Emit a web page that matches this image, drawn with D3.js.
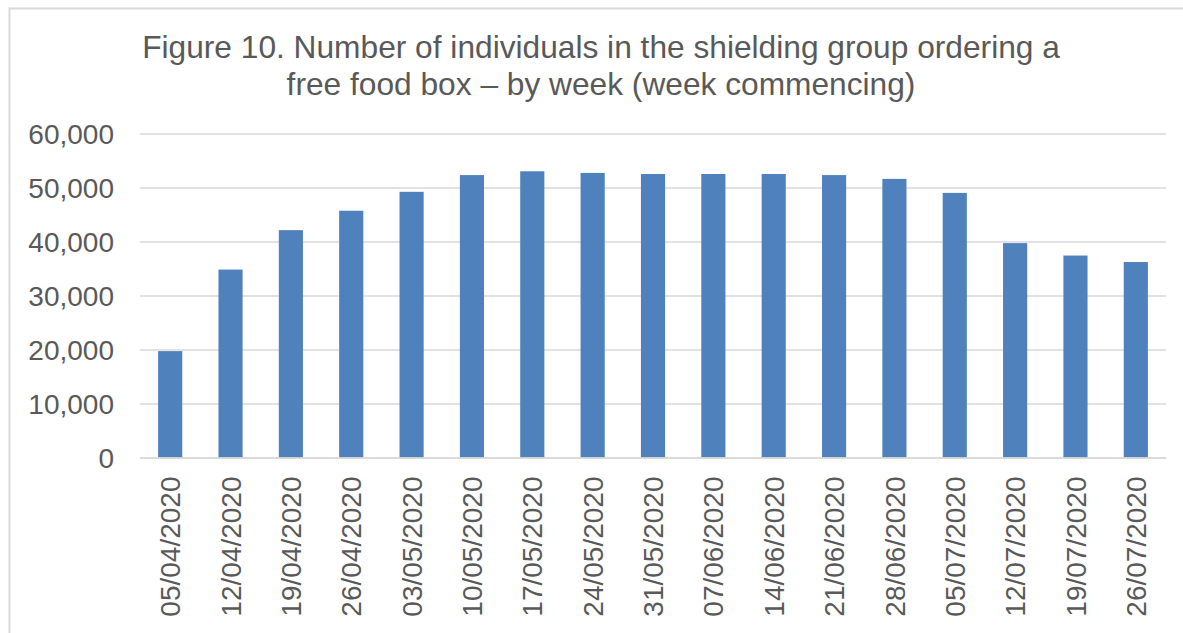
<!DOCTYPE html>
<html>
<head>
<meta charset="utf-8">
<script src="https://cdn.jsdelivr.net/npm/d3@7"></script>
<style>
  html, body { margin: 0; padding: 0; background: #fff; }
  svg { display: block; }
  text { font-family: "Liberation Sans", Arial, sans-serif; fill: #595959; }
</style>
</head>
<body>
<svg id="chart" width="1183" height="633"></svg>
<script>
// Weekly orders of free food boxes (week commencing)
const weeks = [
  "05/04/2020", "12/04/2020", "19/04/2020", "26/04/2020", "03/05/2020",
  "10/05/2020", "17/05/2020", "24/05/2020", "31/05/2020", "07/06/2020",
  "14/06/2020", "21/06/2020", "28/06/2020", "05/07/2020", "12/07/2020",
  "19/07/2020", "26/07/2020"
];
const individuals = [
  19700, 34800, 42100, 45700, 49200,
  52300, 53000, 52700, 52500, 52500,
  52500, 52300, 51600, 49000, 39700,
  37400, 36200
];
const yTicks = [0, 10000, 20000, 30000, 40000, 50000, 60000];
const titleLines = [
  "Figure 10. Number of individuals in the shielding group ordering a",
  "free food box \u2013 by week (week commencing)"
];

const svg = d3.select("#chart");
const W = 1183, H = 633;

// outer frame
svg.append("rect")
  .attr("x", 9.5).attr("y", 8.5)
  .attr("width", W + 20).attr("height", H + 20)
  .attr("fill", "#fff")
  .attr("stroke", "#d9d9d9")
  .attr("stroke-width", 2);

const plot = { left: 140, right: 1166, top: 133.5, bottom: 457.5 };

const x = d3.scaleBand()
  .domain(weeks)
  .range([plot.left, plot.right])
  .paddingInner(0.6)
  .paddingOuter(0.3);

const y = d3.scaleLinear()
  .domain([0, 60000])
  .range([plot.bottom, plot.top]);

// title
svg.append("text")
  .attr("x", 601)
  .attr("text-anchor", "middle")
  .style("font-size", "31.7px")
  .selectAll("tspan")
  .data(titleLines)
  .join("tspan")
  .attr("x", 601)
  .attr("y", (d, i) => 58 + i * 37)
  .text(d => d);

// gridlines + y labels
const yAxis = d3.axisLeft(y)
  .tickValues(yTicks)
  .tickSize(-(plot.right - plot.left))
  .tickPadding(26)
  .tickFormat(d3.format(","));

const gy = svg.append("g")
  .attr("transform", `translate(${plot.left},0)`)
  .call(yAxis);
gy.select(".domain").remove();
gy.selectAll(".tick line").attr("stroke", "#d9d9d9").attr("stroke-width", 1.3);
gy.selectAll(".tick text")
  .style("font-size", "28px")
  .attr("fill", "#595959")
  .attr("dy", "0.36em");

// bars
svg.append("g")
  .selectAll("rect")
  .data(weeks)
  .join("rect")
  .attr("x", d => x(d))
  .attr("width", x.bandwidth())
  .attr("y", (d, i) => y(individuals[i]))
  .attr("height", (d, i) => y(0) - y(individuals[i]))
  .attr("fill", "#4f81bd");

// x axis
const xAxis = d3.axisBottom(x).tickSize(0).tickPadding(0);
const gx = svg.append("g")
  .attr("transform", `translate(0,${plot.bottom})`)
  .call(xAxis);
gx.select(".domain").attr("stroke", "#d9d9d9").attr("stroke-width", 1.3);
gx.selectAll(".tick text")
  .style("font-size", "28px")
  .attr("fill", "#595959")
  .attr("text-anchor", "end")
  .attr("transform", "rotate(-90)")
  .attr("x", -19)
  .attr("y", 0)
  .attr("dy", "0.36em");
</script>
</body>
</html>
